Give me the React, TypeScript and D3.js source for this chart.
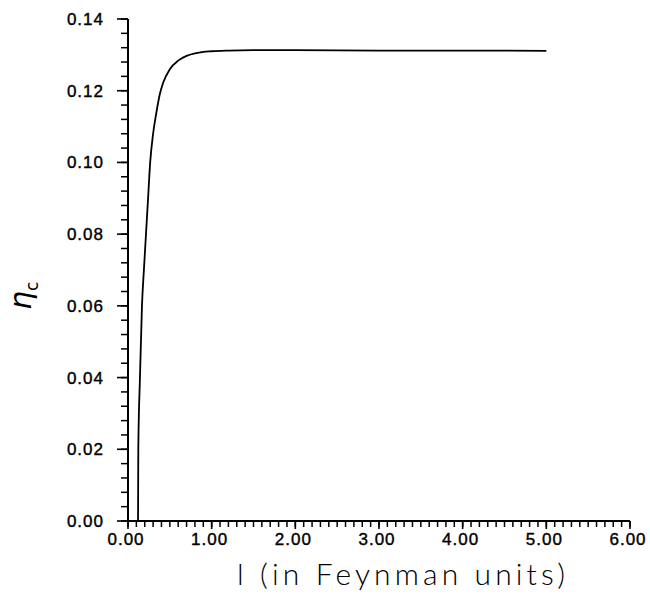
import React, { useEffect, useRef } from 'react';
import * as d3 from 'd3';

// curve
const lengths = [0.12, 0.123, 0.143, 0.167, 0.19, 0.215, 0.24, 0.265, 0.3, 0.34, 0.38, 0.42, 0.5, 0.6, 0.7, 0.82, 1.0, 1.2, 1.5, 2.0, 3.0, 4.0, 5.0];
const etaValues = [0.0, 0.02, 0.04, 0.06, 0.07, 0.08, 0.09, 0.1, 0.108, 0.114, 0.119, 0.1222, 0.126, 0.1284, 0.1297, 0.1305, 0.131, 0.1312, 0.1313, 0.1313, 0.1312, 0.1312, 0.1311];

const xMajor = [0, 1, 2, 3, 4, 5, 6];
const yMajor = [0, 0.02, 0.04, 0.06, 0.08, 0.1, 0.12, 0.14];

const App = () => {
    const svgRef = useRef(null);
    const width = 650;
    const height = 596;

    useEffect(() => {
        const svg = d3.select(svgRef.current);
        svg.selectAll("*").remove();

        const x = d3.scaleLinear().domain([0, 6]).range([128, 630]);
        const y = d3.scaleLinear().domain([0, 0.14]).range([521, 19]);

        const font = "'Liberation Sans', Arial, Helvetica, sans-serif";

        // minor ticks
        const xMinor = d3.range(0, 61).map(i => i / 10);
        const yMinor = d3.range(0, 36).map(i => i * 0.004);

        const g = svg.append("g").attr("stroke", "#000");

        g.selectAll(".xminor")
            .data(xMinor)
            .enter()
            .append("line")
            .attr("x1", d => x(d))
            .attr("x2", d => x(d))
            .attr("y1", y(0))
            .attr("y2", y(0) + 6)
            .attr("stroke-width", 1.5);

        g.selectAll(".xmajor")
            .data(xMajor)
            .enter()
            .append("line")
            .attr("x1", d => x(d))
            .attr("x2", d => x(d))
            .attr("y1", y(0))
            .attr("y2", y(0) + 8)
            .attr("stroke-width", 1.6);

        g.selectAll(".yminor")
            .data(yMinor)
            .enter()
            .append("line")
            .attr("x1", x(0) - 7)
            .attr("x2", x(0))
            .attr("y1", d => y(d))
            .attr("y2", d => y(d))
            .attr("stroke-width", 1.5);

        g.selectAll(".ymajor")
            .data(yMajor)
            .enter()
            .append("line")
            .attr("x1", x(0) - 11)
            .attr("x2", x(0))
            .attr("y1", d => y(d))
            .attr("y2", d => y(d))
            .attr("stroke-width", 1.6);

        // axis lines
        g.append("line")
            .attr("x1", x(0)).attr("x2", x(6))
            .attr("y1", y(0)).attr("y2", y(0))
            .attr("stroke-width", 2);
        g.append("line")
            .attr("x1", x(0)).attr("x2", x(0))
            .attr("y1", y(0)).attr("y2", y(0.14))
            .attr("stroke-width", 2);

        // tick labels
        svg.selectAll(".xlabel")
            .data(xMajor)
            .enter()
            .append("text")
            .attr("x", d => x(d) - 2)
            .attr("y", 545)
            .attr("text-anchor", "middle")
            .style("font-family", font)
            .style("font-size", "17px")
            .style("letter-spacing", "1px")
            .style("stroke", "#000")
            .style("stroke-width", 0.4)
            .text(d => d3.format(".2f")(d));

        svg.selectAll(".ylabel")
            .data(yMajor)
            .enter()
            .append("text")
            .attr("x", 104)
            .attr("y", d => y(d) + 6)
            .attr("text-anchor", "end")
            .style("font-family", font)
            .style("font-size", "17px")
            .style("letter-spacing", "1px")
            .style("stroke", "#000")
            .style("stroke-width", 0.4)
            .text(d => d3.format(".2f")(d));

        // the curve
        const line = d3.line()
            .x((d, i) => x(lengths[i]))
            .y(d => y(d))
            .curve(d3.curveMonotoneX);

        svg.append("path")
            .datum(etaValues)
            .attr("d", line)
            .attr("fill", "none")
            .attr("stroke", "#000")
            .attr("stroke-width", 1.8);

        // axis titles
        svg.append("text")
            .attr("x", 237)
            .attr("y", 585)
            .attr("textLength", 328)
            .attr("lengthAdjust", "spacing")
            .style("font-family", "Lato, 'Open Sans', sans-serif")
            .style("font-weight", 300)
            .style("font-size", "30px")
            .text("l (in Feynman units)");

        const yt = svg.append("text")
            .attr("transform", "translate(31,310) rotate(-90)")
            .style("font-family", "'DejaVu Sans', sans-serif")
            .style("font-style", "italic")
            .style("font-size", "30px");
        yt.append("tspan").text("η");
        yt.append("tspan")
            .attr("dy", 7)
            .style("font-size", "17px")
            .style("font-style", "normal")
            .text("c");

    }, []);

    return (
        <svg ref={svgRef} width={width} height={height}
            style={{ position: 'absolute', left: 0, top: 0, background: '#fff' }}></svg>
    );
};

export default App;
